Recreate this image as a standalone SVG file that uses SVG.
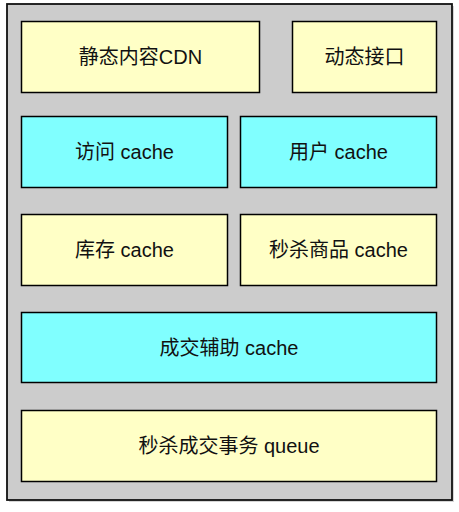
<svg xmlns="http://www.w3.org/2000/svg" width="459" height="512" viewBox="0 0 459 512">
<defs>
<style>
.box{stroke:#000;stroke-width:1.5}
.y{fill:#ffffc6}
.c{fill:#80ffff}
.t{font-family:"Liberation Sans","Noto Sans CJK SC",sans-serif;font-size:20px;fill:#111;text-anchor:middle;dominant-baseline:central}
</style>
</defs>
<rect x="0" y="0" width="459" height="512" fill="#ffffff"/>
<rect x="9" y="6" width="445" height="496" fill="#888" opacity="0.35"/>
<rect id="container" x="7" y="4" width="445" height="496" fill="#cccccc" stroke="#111" stroke-width="1.8"/>
<g id="n1"><rect class="box y" x="21.5" y="21.5" width="238" height="71"/><text class="t" x="140.5" y="57">静态内容CDN</text></g>
<g id="n2"><rect class="box y" x="292.5" y="21.5" width="144" height="71"/><text class="t" x="364.5" y="57">动态接口</text></g>
<g id="n3"><rect class="box c" x="21.5" y="116.5" width="206" height="71"/><text class="t" x="124.5" y="152">访问 cache</text></g>
<g id="n4"><rect class="box c" x="240.5" y="116.5" width="196" height="71"/><text class="t" x="338.5" y="152">用户 cache</text></g>
<g id="n5"><rect class="box y" x="21.5" y="214.5" width="206" height="71"/><text class="t" x="124.5" y="250">库存 cache</text></g>
<g id="n6"><rect class="box y" x="240.5" y="214.5" width="196" height="71"/><text class="t" x="338.5" y="250">秒杀商品 cache</text></g>
<g id="n7"><rect class="box c" x="21.5" y="312.5" width="415" height="70"/><text class="t" x="229" y="348">成交辅助 cache</text></g>
<g id="n8"><rect class="box y" x="21.5" y="410.5" width="415" height="71"/><text class="t" x="229" y="446">秒杀成交事务 queue</text></g>
<g id="connectors"></g>
</svg>
